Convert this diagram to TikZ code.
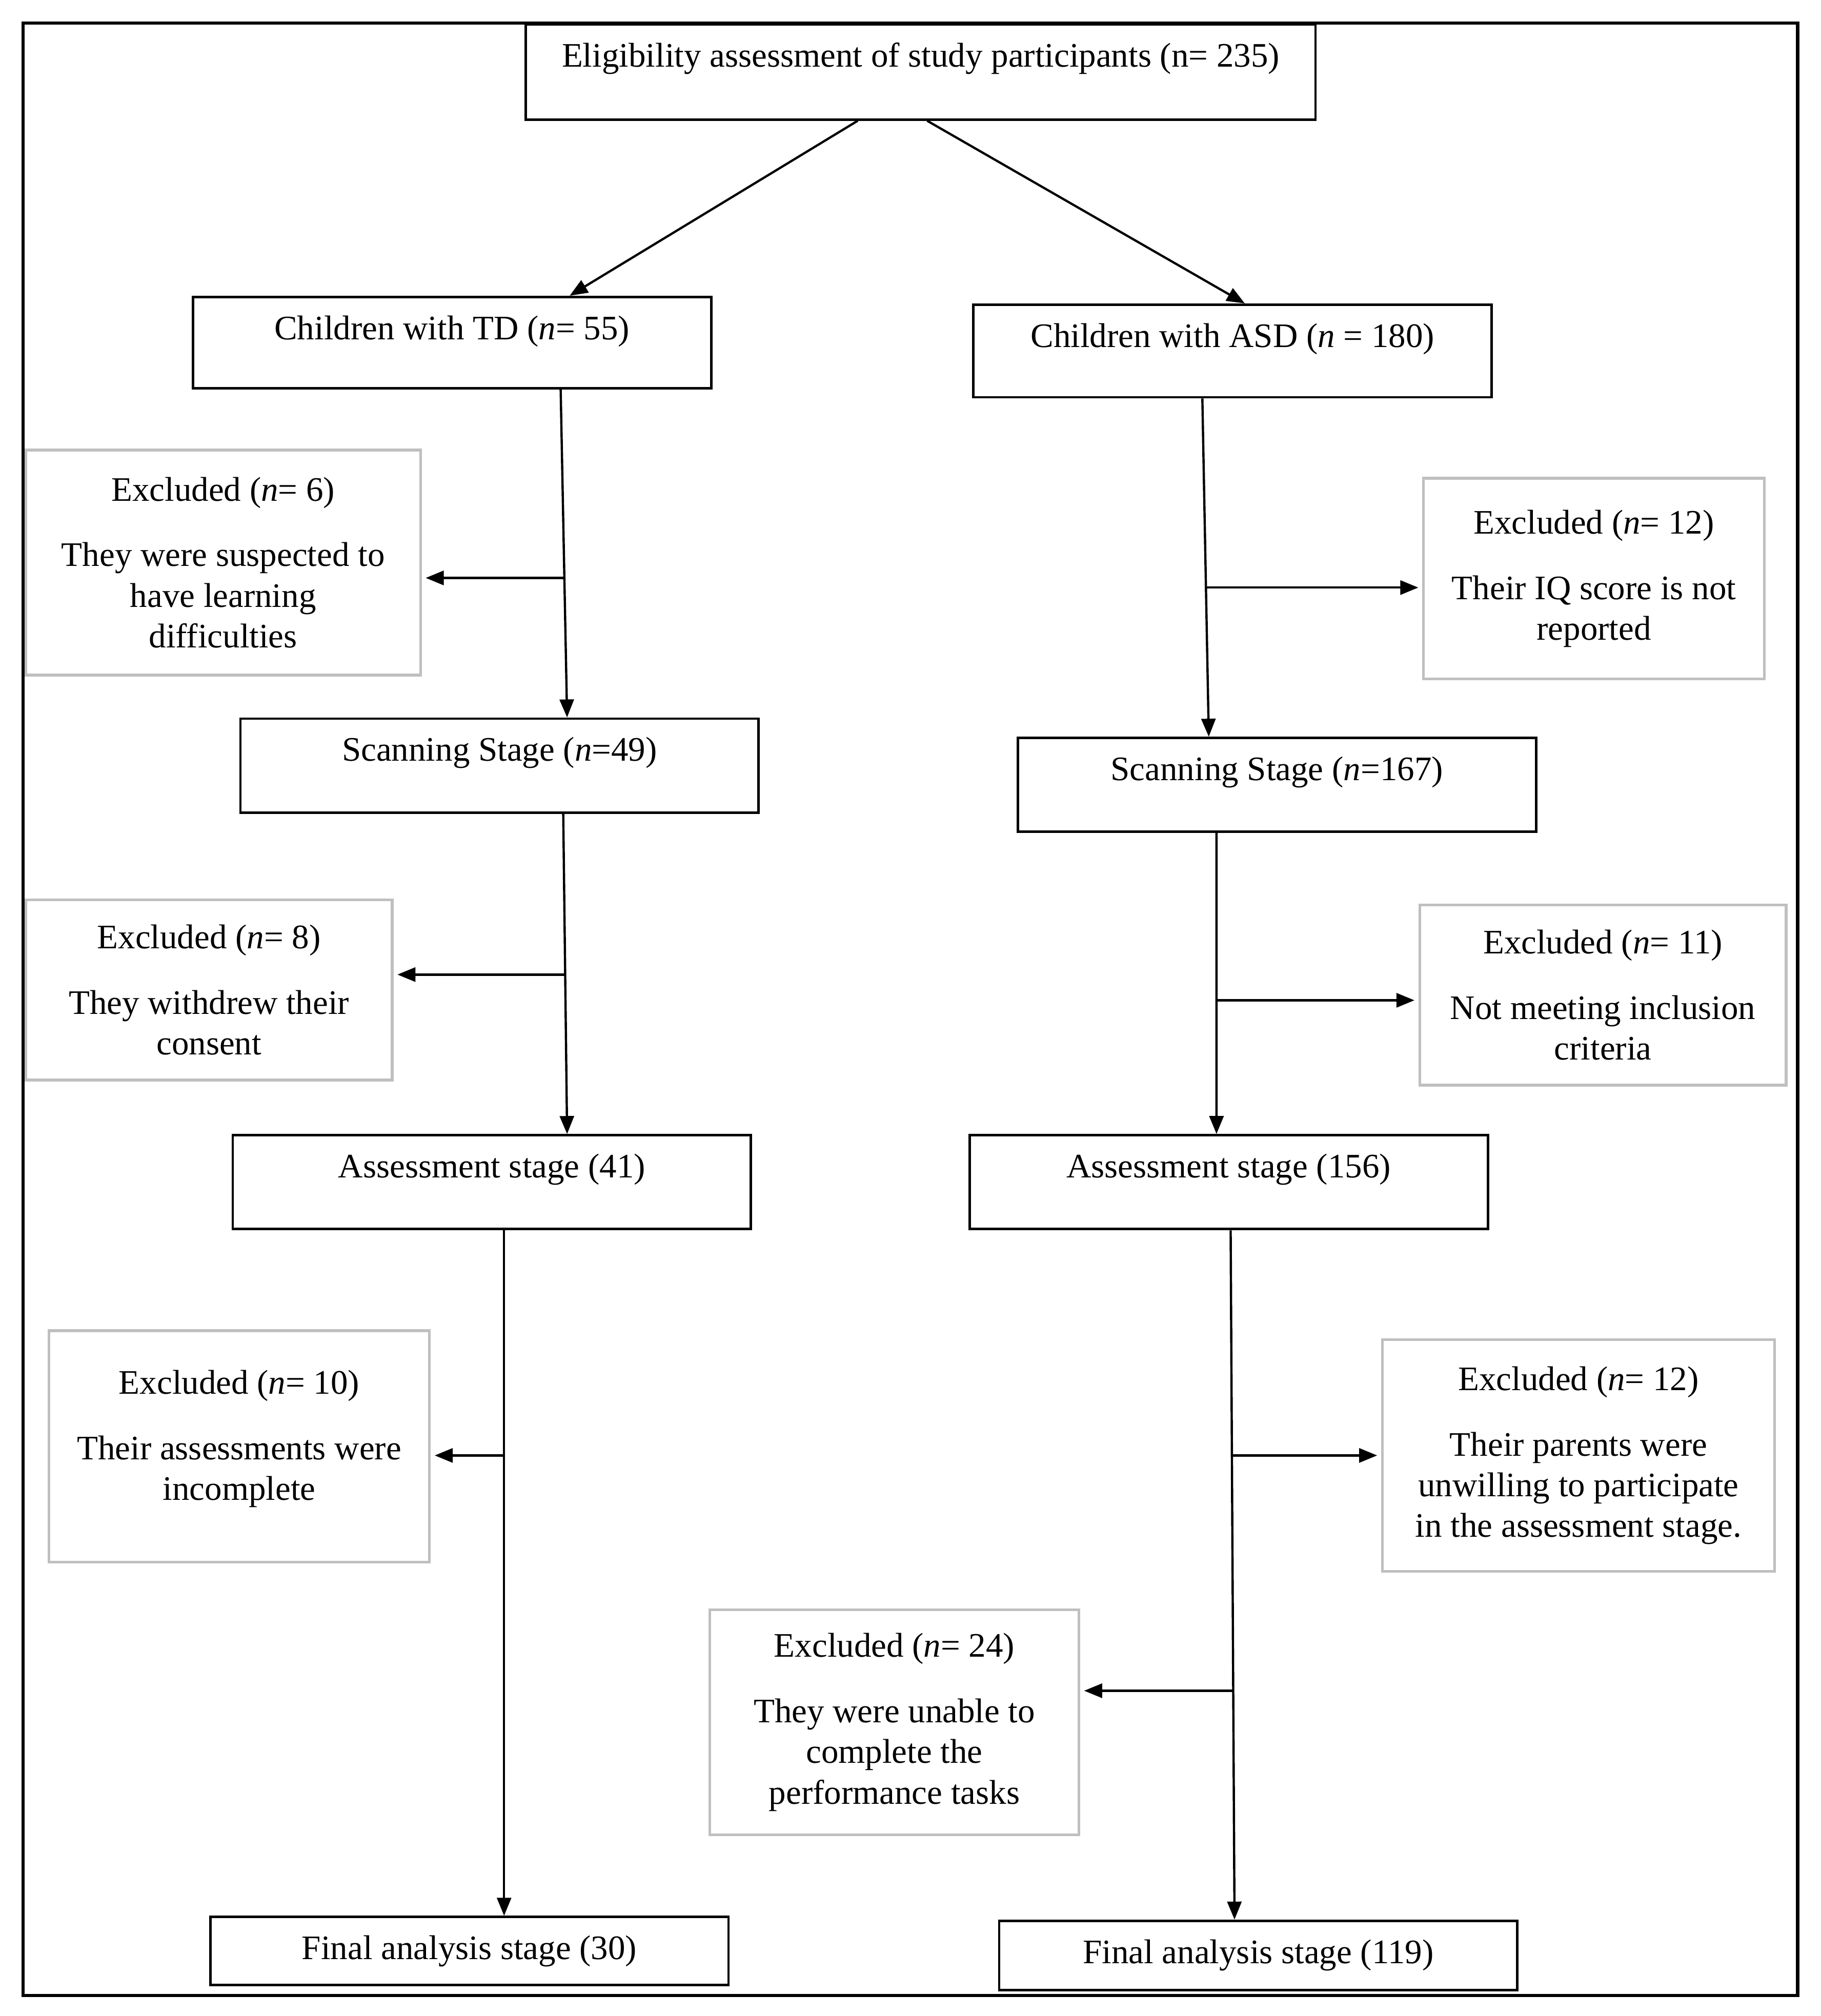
\documentclass[tikz,border=0pt]{standalone}
\usepackage{fontspec}
\setmainfont{Liberation Serif}
\usetikzlibrary{arrows.meta}
\tikzset{
  stage/.style={draw,line width=0.55pt,inner ysep=0pt,text height=0.33cm,text depth=0.4cm,
    minimum width=4.03cm,anchor=north,font=\fontsize{7.6pt}{9pt}\selectfont},
  excl/.style={draw=black!25,line width=0.6pt,align=center,inner sep=0pt,
    font=\fontsize{7.6pt}{9pt}\selectfont},
  arr/.style={line width=0.5pt,-{Triangle[length=1.4mm,width=1.1mm]}}
}
\begin{document}
\begin{tikzpicture}
          \useasboundingbox (0,0) rectangle (14.16,-15.68);
          \draw[line width=0.75pt] (0.18,-0.18) rectangle (13.98,-15.52);
          % stages
          \node[stage,minimum width=6.14cm,text depth=0.41cm] (top) at (7.16,-0.18) {Eligibility assessment of study participants (n= 235)};
          \node[stage,text depth=0.38cm] (td) at (3.515,-2.30) {Children with TD (\textit{n}= 55)};
          \node[stage,text depth=0.39cm] (asd) at (9.585,-2.36) {Children with ASD (\textit{n} = 180)};
          \node[stage] (scantd) at (3.885,-5.58) {Scanning Stage (\textit{n}=49)};
          \node[stage] (scanasd) at (9.93,-5.73) {Scanning Stage (\textit{n}=167)};
          \node[stage] (asstd) at (3.825,-8.82) {Assessment stage (41)};
          \node[stage] (assasd) at (9.555,-8.82) {Assessment stage (156)};
          \node[stage,text depth=0.2cm] (fintd) at (3.65,-14.90) {Final analysis stage (30)};
          \node[stage,text depth=0.21cm] (finasd) at (9.785,-14.93) {Final analysis stage (119)};
          % excluded
          \node[excl,minimum width=3.07cm,minimum height=1.75cm] (ex6) at (1.735,-4.375) {Excluded (\textit{n}= 6)\\[5.5pt] They were suspected to\\ have learning\\ difficulties};
          \node[excl,minimum width=2.65cm,minimum height=1.56cm] (ex12) at (12.395,-4.50) {Excluded (\textit{n}= 12)\\[5.5pt] Their IQ score is not\\ reported};
          \node[excl,minimum width=2.85cm,minimum height=1.40cm] (ex8) at (1.625,-7.70) {Excluded (\textit{n}= 8)\\[5.5pt] They withdrew their\\ consent};
          \node[excl,minimum width=2.85cm,minimum height=1.40cm] (ex11) at (12.465,-7.74) {Excluded (\textit{n}= 11)\\[5.5pt] Not meeting inclusion\\ criteria};
          \node[excl,minimum width=2.96cm,minimum height=1.80cm] (ex10) at (1.86,-11.25) {Excluded (\textit{n}= 10)\\[5.5pt] Their assessments were\\ incomplete\\[-4pt]};
          \node[excl,minimum width=3.05cm,minimum height=1.80cm] (ex12b) at (12.275,-11.32) {Excluded (\textit{n}= 12)\\[5.5pt] Their parents were\\ unwilling to participate\\ in the assessment stage.};
          \node[excl,minimum width=2.87cm,minimum height=1.75cm] (ex24) at (6.955,-13.395) {Excluded (\textit{n}= 24)\\[5.5pt] They were unable to\\ complete the\\ performance tasks};
          % connectors
          \draw[arr] ([xshift=-0.49cm]top.south) -- ([xshift=0.915cm]td.north);
          \draw[arr] ([xshift=0.05cm]top.south) -- ([xshift=0.095cm]asd.north);
          \draw[arr] ([xshift=0.845cm]td.south) -- ([xshift=0.525cm]scantd.north);
          \draw[arr] ([xshift=0.495cm]scantd.south) -- ([xshift=0.585cm]asstd.north);
          \draw[arr] ([xshift=0.095cm]asstd.south) -- ([xshift=0.27cm]fintd.north);
          \draw[arr] ([xshift=-0.235cm]asd.south) -- ([xshift=-0.53cm]scanasd.north);
          \draw[arr] ([xshift=-0.47cm]scanasd.south) -- ([xshift=-0.095cm]assasd.north);
          \draw[arr] ([xshift=0.015cm]assasd.south) -- ([xshift=-0.185cm]finasd.north);
          % branches
          \coordinate (b1) at (4.385,-4.495);
          \coordinate (b2) at (4.395,-7.58);
          \coordinate (b3) at (3.92,-11.32);
          \coordinate (b4) at (9.38,-4.57);
          \coordinate (b5) at (9.46,-7.78);
          \coordinate (b6) at (9.585,-11.32);
          \coordinate (b7) at (9.59,-13.15);
          \draw[arr,shorten >=0.3mm] (b1) -- (b1 -| ex6.east);
          \draw[arr,shorten >=0.3mm] (b2) -- (b2 -| ex8.east);
          \draw[arr,shorten >=0.3mm] (b3) -- (b3 -| ex10.east);
          \draw[arr,shorten >=0.3mm] (b4) -- (b4 -| ex12.west);
          \draw[arr,shorten >=0.3mm] (b5) -- (b5 -| ex11.west);
          \draw[arr,shorten >=0.3mm] (b6) -- (b6 -| ex12b.west);
          \draw[arr,shorten >=0.3mm] (b7) -- (b7 -| ex24.east);
        \end{tikzpicture}
\end{document}
